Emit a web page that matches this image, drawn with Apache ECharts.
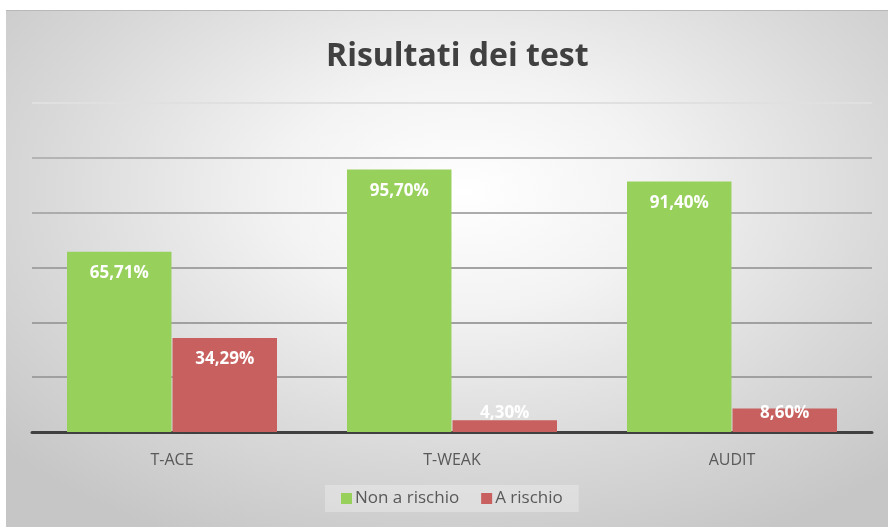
<!DOCTYPE html>
<html><head><meta charset="utf-8">
<script src="https://cdn.jsdelivr.net/npm/echarts@6/dist/echarts.min.js"></script>
<style>
html,body{margin:0;padding:0;background:#fff;}
#bg{position:absolute;left:6px;top:10px;width:882px;height:517px;border-top:1px solid #b8b8b8;
background:radial-gradient(ellipse 70% 75% at 52% 35%, #ffffff 0%, #f3f3f3 30%, #d8d8d8 70%, #c6c6c6 100%);}
#chart{position:absolute;left:0;top:0;width:888px;height:527px;}
</style></head>
<body>
<div id="bg"></div>
<div id="chart"></div>
<script>
const categories = ['T-ACE', 'T-WEAK', 'AUDIT'];
const seriesNames = ['Non a rischio', 'A rischio'];
const nonARischio = [65.71, 95.70, 91.40];
const aRischio = [34.29, 4.30, 8.60];
const yTicks = [0, 20, 40, 60, 80, 100, 120];

const fmt = v => v.toFixed(2).replace('.', ',') + '%';
function items(arr){
  return arr.map(v => v < 12 ? {value: v, label: {position: 'insideBottom', distance: 10}} : v);
}
const chart = echarts.init(document.getElementById('chart'), null, {renderer: 'canvas'});
const labelStyle = {show: true, position: 'insideTop', distance: 13, color: '#ffffff',
  fontFamily: 'Open Sans', fontWeight: 'bold', fontSize: 17, formatter: p => fmt(p.value)};
chart.setOption({
  animation: false,
  backgroundColor: 'transparent',
  title: {text: 'Risultati dei test', left: 321, top: 36,
    textStyle: {fontFamily: 'Open Sans', fontWeight: 'bold', fontSize: 32, color: '#404040'}},
  legend: {bottom: 15, left: 325, itemWidth: 11, itemHeight: 11, itemGap: 22,
    icon: 'rect', backgroundColor: 'rgba(255,255,255,0.28)', padding: [5, 16, 5, 16],
    textStyle: {fontFamily: 'Open Sans', fontSize: 17, color: '#595959', padding: [0, 0, 0, -2]},
    data: seriesNames},
  grid: {left: 32, right: 16, top: 103, bottom: 95, containLabel: false},
  xAxis: {type: 'category', data: categories,
    axisLine: {lineStyle: {color: '#404040', width: 3}},
    axisTick: {show: false},
    axisLabel: {margin: 20, fontFamily: 'Open Sans', fontSize: 16, color: '#595959'}},
  yAxis: {type: 'value', min: yTicks[0], max: yTicks[yTicks.length - 1], interval: 20,
    axisLabel: {show: false}, axisLine: {show: false}, axisTick: {show: false},
    splitLine: {lineStyle: {width: 2, color: ['#a0a0a0', '#a0a0a0', '#a0a0a0', '#a3a3a3', '#acacac', '#b4b4b4', '#e0e0e0']}}},
  series: [
    {name: seriesNames[0], type: 'bar', data: items(nonARischio), barGap: '1%', barCategoryGap: '25%',
     itemStyle: {color: '#98d05c'}, label: labelStyle},
    {name: seriesNames[1], type: 'bar', data: items(aRischio),
     itemStyle: {color: '#c7605e'}, label: labelStyle}
  ]
});
</script>
</body></html>
